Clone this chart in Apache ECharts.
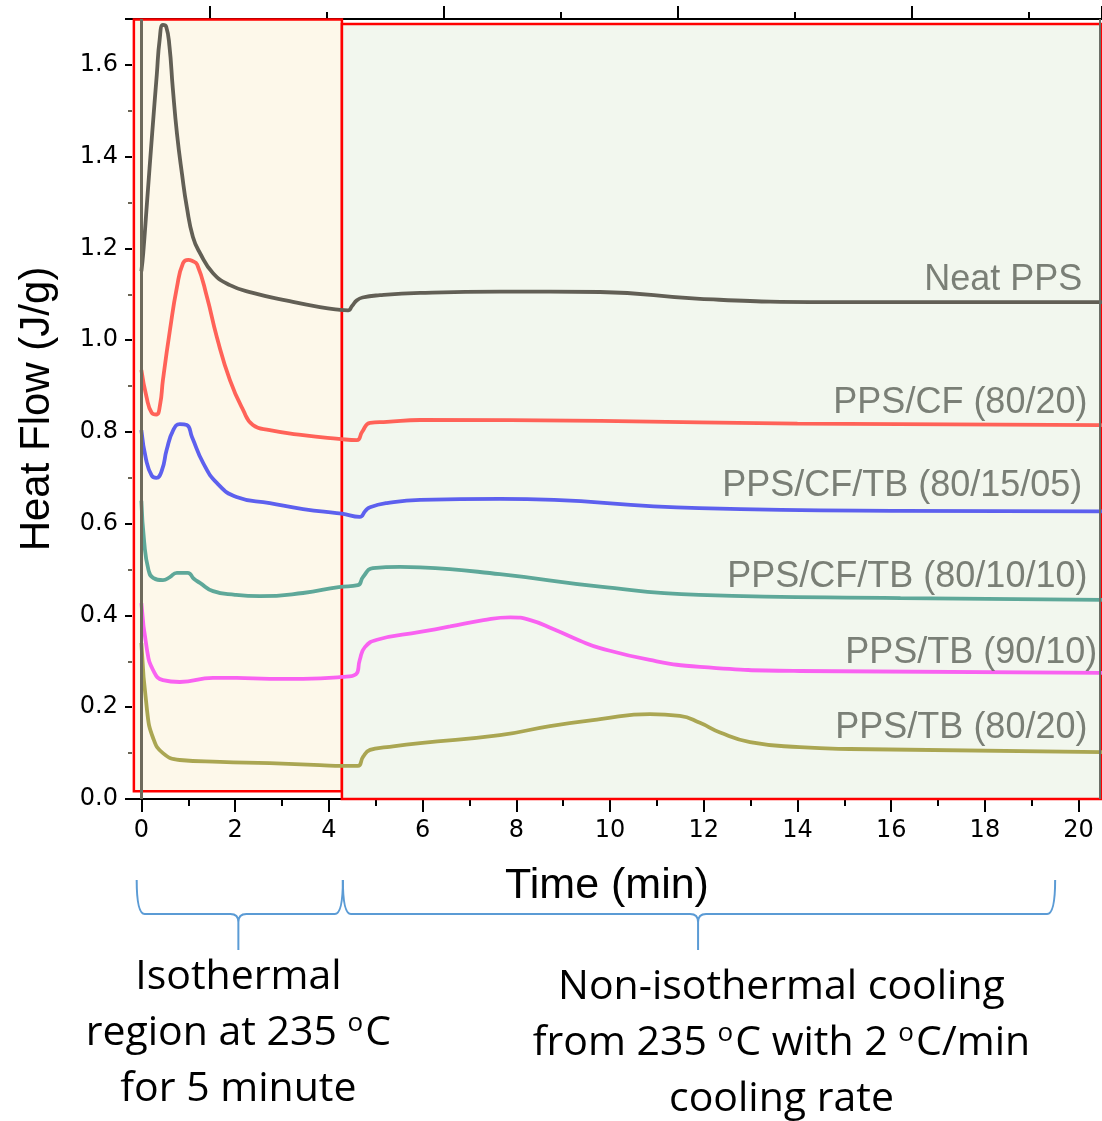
<!DOCTYPE html>
<html>
<head>
<meta charset="utf-8">
<script src="https://cdn.jsdelivr.net/npm/echarts@6/dist/echarts.min.js"></script>
<style>
  html, body { margin: 0; padding: 0; background: #fff; }
  #main { width: 1102px; height: 1121px; }
</style>
</head>
<body>
<div id="main"></div>
<script>
var chart = echarts.init(document.getElementById("main"))

// curves, [time (min), heat flow (J/g)]
var neatPPS = [[0,1.15],[0.04,1.19],[0.12,1.30],[0.23,1.45],[0.33,1.58],[0.39,1.655],[0.46,1.687],[0.53,1.683],[0.60,1.64],[0.67,1.55],[0.76,1.45],[0.87,1.36],[0.97,1.29],[1.10,1.225],[1.25,1.19],[1.53,1.146],[1.89,1.120],[2.38,1.103],[3.11,1.086],[3.81,1.072],[4.24,1.066],[4.41,1.065],[4.50,1.075],[4.60,1.087],[4.72,1.093],[5.09,1.098],[5.95,1.103],[7.65,1.106],[9.79,1.105],[11.92,1.090],[14.69,1.083],[18.3,1.083],[20.5,1.083]]
var ppsCF = [[0,0.935],[0.11,0.876],[0.22,0.842],[0.32,0.838],[0.40,0.86],[0.46,0.913],[0.61,1.022],[0.76,1.116],[0.89,1.168],[1.0,1.175],[1.08,1.173],[1.19,1.165],[1.40,1.094],[1.61,1.007],[1.89,0.913],[2.17,0.848],[2.38,0.815],[2.74,0.804],[3.45,0.793],[4.21,0.785],[4.60,0.782],[4.71,0.800],[4.88,0.820],[5.24,0.822],[5.95,0.826],[9.8,0.824],[14,0.818],[20.5,0.815]]
var ppsCFTB1505 = [[0,0.804],[0.1,0.74],[0.22,0.705],[0.32,0.700],[0.44,0.717],[0.54,0.761],[0.68,0.804],[0.82,0.817],[0.97,0.815],[1.08,0.789],[1.32,0.732],[1.61,0.689],[2.03,0.658],[2.74,0.645],[3.45,0.632],[4.17,0.623],[4.28,0.622],[4.66,0.615],[4.78,0.628],[4.88,0.636],[5.24,0.645],[5.95,0.652],[7.65,0.654],[11.9,0.634],[16.2,0.628],[20.5,0.627]]
var ppsCFTB1010 = [[0,0.65],[0.06,0.56],[0.15,0.50],[0.25,0.482],[0.46,0.477],[0.6,0.483],[0.76,0.493],[0.99,0.493],[1.12,0.48],[1.25,0.471],[1.53,0.453],[2.0,0.445],[2.53,0.442],[3.45,0.449],[4.21,0.462],[4.62,0.466],[4.73,0.484],[4.94,0.503],[5.52,0.506],[5.95,0.505],[7.65,0.49],[9.79,0.463],[11.9,0.445],[16.2,0.438],[20.5,0.434]]
var ppsTB9010 = [[0,0.427],[0.12,0.325],[0.25,0.281],[0.46,0.259],[0.82,0.255],[1.53,0.264],[2.03,0.264],[2.74,0.262],[3.45,0.262],[4.28,0.266],[4.58,0.272],[4.66,0.303],[4.77,0.331],[5.03,0.347],[5.95,0.364],[6.59,0.376],[7.3,0.39],[7.87,0.396],[8.3,0.39],[8.8,0.37],[9.36,0.345],[9.79,0.329],[10.85,0.303],[11.92,0.288],[14.05,0.279],[20.5,0.275]]
var ppsTB8020 = [[0,0.34],[0.12,0.194],[0.25,0.133],[0.46,0.100],[0.82,0.085],[1.68,0.081],[2.74,0.078],[3.81,0.074],[4.28,0.072],[4.62,0.072],[4.73,0.092],[4.88,0.107],[5.24,0.113],[5.95,0.122],[7.65,0.139],[8.72,0.159],[9.79,0.174],[10.85,0.185],[11.49,0.181],[11.92,0.166],[12.35,0.145],[12.99,0.124],[14.05,0.113],[15.12,0.109],[20.5,0.102]]

var seriesNames = ["Neat PPS", "PPS/CF (80/20)", "PPS/CF/TB (80/15/05)", "PPS/CF/TB (80/10/10)", "PPS/TB (90/10)", "PPS/TB (80/20)"]
var seriesData = [neatPPS, ppsCF, ppsCFTB1505, ppsCFTB1010, ppsTB9010, ppsTB8020]
var seriesColors = ["#625f55", "#ff6258", "#5d60ee", "#5ea899", "#f962f1", "#aaa652"]
// where each curve name sits (right end of the text)
var labelPoints = [[20.09,1.131],[20.2,0.862],[20.09,0.682],[20.2,0.484],[20.41,0.318],[20.2,0.155]]

var isoStart = -0.16, isoEnd = 4.28

var series = []
for (var i = 0; i < seriesData.length; i++) {
  series.push({
    name: seriesNames[i],
    type: "line",
    data: seriesData[i],
    showSymbol: false,
    smooth: 0.5,
    lineStyle: { color: seriesColors[i], width: 3.8 },
    z: 3
  })
}
// regions and frame go on the first series
series[0].markArea = {
  silent: true,
  data: [
    [{ xAxis: isoStart, yAxis: 0.017, itemStyle: { color: "#fdf8ea", borderColor: "#ff0000", borderWidth: 2.5 } }, { xAxis: isoEnd, yAxis: 1.699 }],
    [{ xAxis: isoEnd, yAxis: 0.0, itemStyle: { color: "#f2f7ee", borderColor: "#ff0000", borderWidth: 2.5 } }, { xAxis: 20.5, yAxis: 1.689 }]
  ]
}
series[0].markLine = {
  silent: true,
  symbol: "none",
  label: { show: false },
  data: [
    { xAxis: 0, lineStyle: { color: "#6e6a5c", width: 3, type: "solid" } },
    { xAxis: 20.45, lineStyle: { color: "#6b6f67", width: 2, type: "solid" } }
  ]
}
series.push({
  type: "scatter",
  data: labelPoints,
  symbolSize: 1,
  itemStyle: { color: "transparent" },
  silent: true,
  z: 4,
  label: {
    show: true,
    position: "left",
    distance: 0,
    formatter: function (p) { return seriesNames[p.dataIndex] },
    color: "#5b6058",
    fontSize: 36,
    fontFamily: "Liberation Sans"
  }
})

var hiddenLine = { show: true, onZero: false, lineStyle: { color: "#000", opacity: 0 } }

option = {
  animation: false,
  backgroundColor: "#fff",
  grid: [
    // data area, x from -0.2 to 20.5
    { left: 132, top: 19, width: 970, height: 780 },
    // offset top ticks of the original frame
    { left: 210, top: 19, width: 892, height: 780 },
    // time ticks 0..20
    { left: 141.4, top: 19, width: 937.2, height: 780 }
  ],
  xAxis: [
    {
      type: "value",
      gridIndex: 0,
      min: -0.2,
      max: 20.5,
      axisLine: { onZero: false, lineStyle: { color: "#000", width: 2 } },
      axisTick: { show: false },
      axisLabel: { show: false },
      splitLine: { show: false }
    },
    {
      type: "value",
      gridIndex: 0,
      position: "top",
      min: -0.2,
      max: 20.5,
      axisLine: { onZero: false, lineStyle: { color: "#000", width: 2 } },
      axisTick: { show: false },
      axisLabel: { show: false },
      splitLine: { show: false }
    },
    {
      type: "value",
      gridIndex: 1,
      position: "top",
      min: 0,
      max: 7.624,
      interval: 2,
      axisLine: hiddenLine,
      axisTick: { show: true, length: 13, lineStyle: { color: "#000", width: 2 } },
      minorTick: { show: true, splitNumber: 2, length: 7, lineStyle: { color: "#000", width: 2 } },
      axisLabel: { show: false },
      splitLine: { show: false }
    },
    {
      type: "value",
      gridIndex: 2,
      min: 0,
      max: 20,
      interval: 2,
      name: "Time (min)",
      nameLocation: "middle",
      nameGap: 66,
      nameTextStyle: { fontSize: 43, fontFamily: "Liberation Sans", color: "#000", padding: [0, 6, 0, 0] },
      axisLine: hiddenLine,
      axisTick: { show: true, length: 13, lineStyle: { color: "#000", width: 2 } },
      minorTick: { show: true, splitNumber: 2, length: 7, lineStyle: { color: "#000", width: 2 } },
      axisLabel: { fontSize: 24, fontFamily: "DejaVu Sans", color: "#000", margin: 20 },
      splitLine: { show: false }
    }
  ],
  yAxis: [
    {
      type: "value",
      gridIndex: 0,
      min: 0,
      max: 1.7,
      interval: 0.2,
      name: "Heat Flow (J/g)",
      nameLocation: "middle",
      nameGap: 74,
      nameTextStyle: { fontSize: 42, fontFamily: "Liberation Sans", color: "#000" },
      axisLine: hiddenLine,
      axisTick: { show: true, length: 7, lineStyle: { color: "#000", width: 2 } },
      minorTick: { show: true, splitNumber: 2, length: 4, lineStyle: { color: "#6b6655", width: 2 } },
      axisLabel: {
        fontSize: 24, fontFamily: "DejaVu Sans", color: "#000", margin: 14,
        formatter: function (v) { return v > 1.65 ? "" : v.toFixed(1) }
      },
      splitLine: { show: false }
    },
    { type: "value", gridIndex: 1, min: 0, max: 1, show: false },
    { type: "value", gridIndex: 2, min: 0, max: 1, show: false }
  ],
  series: series
}

chart.setOption(option)

// curly braces under the time axis
echarts.graphic.registerShape("brace", echarts.graphic.extendShape({
  shape: { x1: 0, x2: 0, mid: 0, top: 0, bar: 0, tip: 0 },
  buildPath: function (ctx, s) {
    var r = 8
    ctx.moveTo(s.x1, s.top)
    ctx.quadraticCurveTo(s.x1, s.bar, s.x1 + r, s.bar)
    ctx.lineTo(s.mid - r, s.bar)
    ctx.quadraticCurveTo(s.mid, s.bar, s.mid, s.bar + r)
    ctx.lineTo(s.mid, s.tip)
    ctx.moveTo(s.mid, s.bar + r)
    ctx.quadraticCurveTo(s.mid, s.bar, s.mid + r, s.bar)
    ctx.lineTo(s.x2 - r, s.bar)
    ctx.quadraticCurveTo(s.x2, s.bar, s.x2, s.top)
  }
}))

function px(v) { return chart.convertToPixel({ xAxisIndex: 0 }, v) }
var noteRich = {
  n: { fontSize: 41, fontFamily: "Open Sans", color: "#000", lineHeight: 56 },
  s: { fontSize: 26, fontFamily: "Open Sans", color: "#000", verticalAlign: "top", padding: [6, 2, 0, 0] }
}
var leftMid = px(2.07), rightMid = px(11.88)
chart.setOption({
  graphic: [
    { type: "brace", shape: { x1: px(-0.1), x2: px(4.3), mid: leftMid, top: 880, bar: 914, tip: 950 }, style: { fill: null, stroke: "#5b9bd5", lineWidth: 2 } },
    { type: "brace", shape: { x1: px(4.3), x2: px(19.5), mid: rightMid, top: 880, bar: 914, tip: 950 }, style: { fill: null, stroke: "#5b9bd5", lineWidth: 2 } },
    {
      type: "text", x: leftMid, y: 949,
      style: { text: "{n|Isothermal}\n{n|region at 235 }{s|o}{n|C}\n{n|for 5 minute}", rich: noteRich, align: "center", verticalAlign: "top" }
    },
    {
      type: "text", x: px(13.66), y: 959,
      style: { text: "{n|Non-isothermal cooling}\n{n|from 235 }{s|o}{n|C with 2 }{s|o}{n|C/min}\n{n|cooling rate}", rich: noteRich, align: "center", verticalAlign: "top" }
    }
  ]
})
</script>
</body>
</html>
